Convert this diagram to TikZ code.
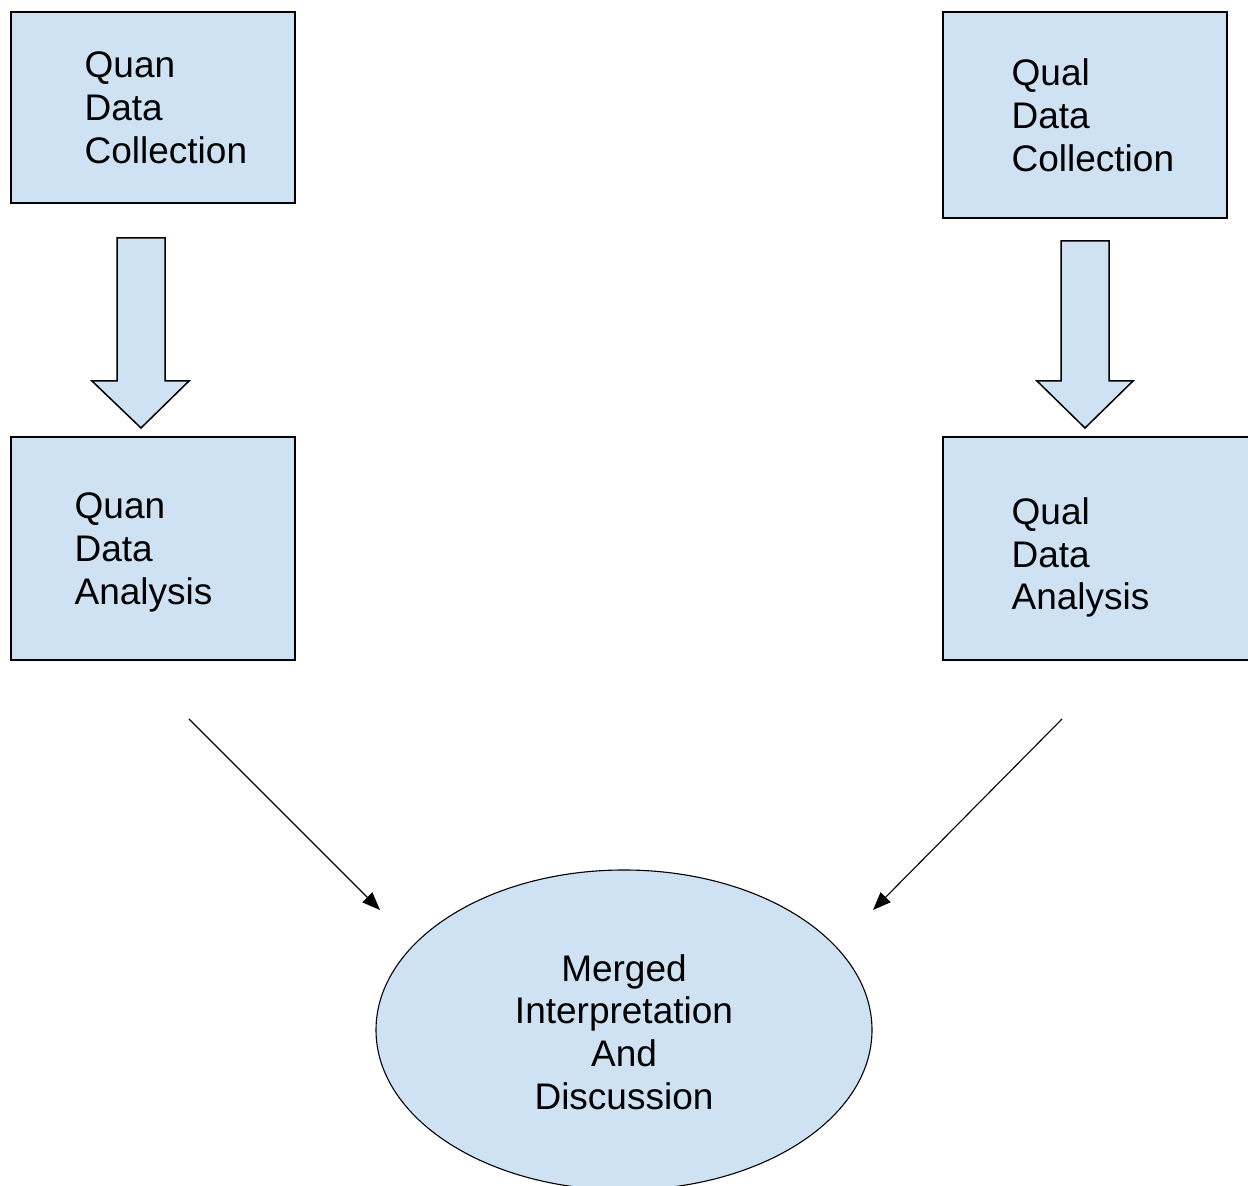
\documentclass[tikz,border=0pt]{standalone}
\usepackage{fontspec}
\setmainfont{Liberation Sans}
\usetikzlibrary{arrows.meta,shapes.geometric,positioning}
\definecolor{boxFill}{HTML}{CFE2F3}
\colorlet{penColor}{black}
\tikzset{
  box/.style={draw=penColor, fill=boxFill, line width=0.75pt, rectangle, inner sep=0pt},
  boxtext/.style={anchor=west, inner sep=0pt, align=left, font=\fontsize{18.5}{21.4}\selectfont},
  blockarrow/.style={draw=penColor, fill=boxFill, line width=0.75pt, line join=miter},
  thinarrow/.style={draw=penColor, line width=0.55pt, -{Triangle[length=9pt,width=7pt]}}
}
\begin{document}
\begin{tikzpicture}[x=0.5pt,y=-0.5pt]
\useasboundingbox (0,0) rectangle (1248,1186);
\clip (0,0) rectangle (1248,1186);
% boxes
\node[box, minimum width=142pt, minimum height=95.5pt] (quancol) at (153,107.5) {};
\node[box, minimum width=142pt, minimum height=103pt] (qualcol) at (1085,115) {};
\node[box, minimum width=142pt, minimum height=111.5pt] (quanana) at (153,548.5) {};
\node[box, minimum width=170pt, minimum height=111.5pt] (qualana) at (1113,548.5) {};
\node[boxtext] (quancoltext) at ([xshift=37pt]quancol.west) {Quan\\Data\\Collection};
\node[boxtext] (qualcoltext) at ([xshift=34.5pt]qualcol.west) {Qual\\Data\\Collection};
\node[boxtext] (quananatext) at ([xshift=32pt,yshift=-2pt]quanana.west) {Quan\\Data\\Analysis};
\node[boxtext] (qualanatext) at ([xshift=34.5pt,yshift=-4.5pt]qualana.west) {Qual\\Data\\Analysis};
% block arrows
\draw[blockarrow] (117,238) -- (165,238) -- (165,381) -- (189,381) -- (141,428) -- (92,381) -- (117,381) -- cycle;
\draw[blockarrow] (1061,241) -- (1109,241) -- (1109,381) -- (1133,381) -- (1085,428) -- (1037,381) -- (1061,381) -- cycle;
% merged
\node[draw=penColor, fill=boxFill, ellipse, line width=0.55pt, minimum width=248pt, minimum height=160pt, inner sep=0pt] (merged) at (624,1030) {};
\node[align=center, inner sep=0pt, font=\fontsize{18.5}{21.4}\selectfont] (mergedtext) at (624,1032) {Merged\\Interpretation\\And\\Discussion};
% arrows
\coordinate (quanfrom) at (189,719);
\coordinate (quanto) at (380,910);
\coordinate (qualfrom) at (1062,719);
\coordinate (qualto) at (873,910);
\draw[thinarrow] (quanfrom) -- (quanto);
\draw[thinarrow] (qualfrom) -- (qualto);
\end{tikzpicture}
\end{document}
